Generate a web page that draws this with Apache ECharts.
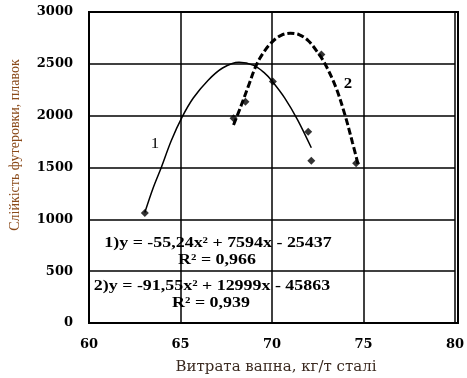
<!DOCTYPE html>
<html>
<head>
<meta charset="utf-8">
<script src="https://cdn.jsdelivr.net/npm/echarts@6/dist/echarts.min.js"></script>
<style>
  html, body { margin: 0; padding: 0; background: #ffffff; }
  #chart { width: 467px; height: 378px; }
</style>
</head>
<body>
<div id="chart"></div>
<script>
// Measured points (lime consumption, kg/t steel -> lining life, heats)
const points1 = [[63.05, 1060], [67.9, 1975], [70.05, 2330], [71.98, 1845], [72.15, 1565]];
const points2 = [[68.55, 2135], [72.7, 2590], [74.6, 1540]];

// Quadratic trend curves, read along their length
const trend1 = [
  [63.05, 1065], [63.5, 1300], [63.95, 1500], [64.5, 1760], [65.1, 1990],
  [65.7, 2170], [66.5, 2340], [67.3, 2460], [68.2, 2515], [69.0, 2485],
  [69.6, 2410], [70.0, 2335], [70.7, 2170], [71.4, 1960], [72.15, 1690]
];
const trend2 = [
  [67.9, 1910], [68.3, 2090], [68.7, 2280], [69.1, 2470], [69.5, 2600],
  [70.0, 2710], [70.5, 2775], [71.0, 2795], [71.5, 2780], [72.0, 2720],
  [72.5, 2610], [72.9, 2500], [73.5, 2270], [74.0, 2000], [74.4, 1740],
  [74.7, 1535]
];

const xTicks = { min: 60, max: 80, step: 5 };
const yTicks = { min: 0, max: 3000, step: 500 };

const xTitle = 'Витрата вапна, кг/т сталі';
const yTitle = 'Слійкість футеровки, плавок';
const eq1 = '1)y = -55,24x² + 7594x - 25437';
const r1 = 'R² = 0,966';
const eq2 = '2)y = -91,55x² + 12999x - 45863';
const r2 = 'R² = 0,939';

const chart = echarts.init(document.getElementById('chart'), null, { renderer: 'canvas' });

const tickFont = { fontFamily: 'DejaVu Serif', fontWeight: 'bold', fontSize: 13, color: '#000' };
const eqFontCss = 'bold 14px "Liberation Serif"';

function eqText(x, y, text) {
  return {
    type: 'text', x: x, y: y, scaleX: 1.28,
    style: { text: text, align: 'center', verticalAlign: 'middle', font: eqFontCss, fill: '#000' },
    z: 6
  };
}

chart.setOption({
  animation: false,
  backgroundColor: '#ffffff',
  grid: { left: 89, right: 9, top: 12, bottom: 55, show: false },
  xAxis: {
    type: 'value',
    min: xTicks.min, max: xTicks.max, interval: xTicks.step,
    axisLine: { show: true, lineStyle: { color: '#000', width: 2 } },
    axisTick: { show: false },
    axisLabel: Object.assign({ margin: 15, formatter: v => String(v) }, tickFont),
    splitLine: { show: true, lineStyle: { color: '#000', width: 1.5 } }
  },
  yAxis: {
    type: 'value',
    min: yTicks.min, max: yTicks.max, interval: yTicks.step,
    axisLine: { show: true, lineStyle: { color: '#000', width: 2 } },
    axisTick: { show: false },
    axisLabel: Object.assign({ margin: 16, formatter: v => String(v) }, tickFont),
    splitLine: { show: true, lineStyle: { color: '#000', width: 1.5 } }
  },
  series: [
    {
      type: 'line', data: trend1, smooth: 0.35, symbol: 'none',
      lineStyle: { color: '#000', width: 1.5 }, z: 3
    },
    {
      type: 'line', data: trend2, smooth: 0.35, symbol: 'none',
      lineStyle: { color: '#000', width: 3, type: [7, 3] }, z: 3
    },
    {
      type: 'scatter', data: points1, symbol: 'diamond', symbolSize: 8,
      itemStyle: { color: '#000' }, z: 4
    },
    {
      type: 'scatter', data: points2, symbol: 'diamond', symbolSize: 8,
      itemStyle: { color: '#000' }, z: 4
    }
  ],
  graphic: [
    // right and top frame of the plot area
    { type: 'rect', shape: { x: 89, y: 12, width: 369, height: 311 },
      style: { fill: 'none', stroke: '#000', lineWidth: 2 }, z: 10 },
    { type: 'text', x: 155, y: 144, scaleX: 1.2, style: { text: '1', font: '14px "Liberation Serif"', fill: '#000', align: 'center', verticalAlign: 'middle' } },
    { type: 'text', x: 348, y: 84, scaleX: 1.2, style: { text: '2', font: 'bold 14px "Liberation Serif"', fill: '#000', align: 'center', verticalAlign: 'middle' } },
    eqText(218, 243, eq1),
    eqText(217, 260, r1),
    eqText(212, 286, eq2),
    eqText(211, 303, r2),
    { type: 'text', x: 276, y: 367, style: { text: xTitle, align: 'center', verticalAlign: 'middle', font: '15px "DejaVu Serif"', fill: '#3b2a20' } },
    { type: 'text', x: 15, y: 145, rotation: Math.PI / 2, style: { text: yTitle, align: 'center', verticalAlign: 'middle', font: '14px "Liberation Serif"', fill: '#8a4a1a' } }
  ]
});
</script>
</body>
</html>
